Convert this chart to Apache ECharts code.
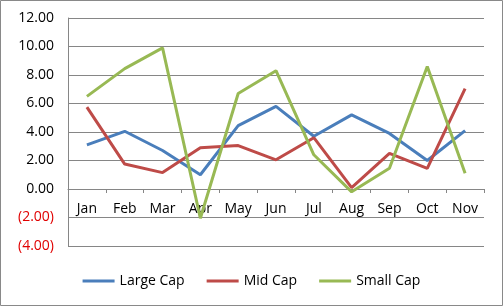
<!DOCTYPE html>
<html><head><meta charset="utf-8">
<script src="https://cdn.jsdelivr.net/npm/echarts@6/dist/echarts.min.js"></script>
<style>html,body{margin:0;padding:0;background:#fff}#c{width:503px;height:306px}</style>
</head><body><div id="c"></div>
<script>
const categories = ['Jan','Feb','Mar','Apr','May','Jun','Jul','Aug','Sep','Oct','Nov'];
const largeCap = [3.1, 4.05, 2.7, 1.0, 4.45, 5.8, 3.7, 5.2, 3.9, 2.0, 4.1];
const midCap   = [5.75, 1.75, 1.15, 2.9, 3.05, 2.05, 3.6, 0.1, 2.5, 1.45, 7.05];
const smallCap = [6.5, 8.45, 9.9, -2.05, 6.7, 8.3, 2.4, -0.2, 1.45, 8.6, 1.1];
const yTicks = {min: -4, max: 12, interval: 2};

const chart = echarts.init(document.getElementById('c'));
const font = 'Open Sans';
const gridTop = 18, gridBottom = 60, plotH = 306 - gridTop - gridBottom;
// distance from bottom of plot to the zero line, derived from the axis range
const zeroOffset = -plotH * (0 - yTicks.min) / (yTicks.max - yTicks.min);
function mk(name, data, color) {
  return {name, type: 'line', data, symbol: 'none', smooth: false,
    lineStyle: {width: 3, color}, itemStyle: {color}};
}
chart.setOption({
  animation: false,
  graphic: [{type: 'rect', shape: {x: 0.5, y: 0.5, width: 502, height: 305},
    style: {fill: 'none', stroke: '#898989', lineWidth: 1}, silent: true}],
  grid: {left: 68, right: 19, top: gridTop, bottom: gridBottom},
  legend: {bottom: 13, left: 'center', itemWidth: 32, itemHeight: 3, itemGap: 22,
    icon: 'rect', textStyle: {fontFamily: font, fontSize: 14, color: '#000'},
    data: ['Large Cap', 'Mid Cap', 'Small Cap']},
  xAxis: {type: 'category', data: categories, boundaryGap: true, offset: zeroOffset,
    axisLine: {onZero: false, lineStyle: {color: '#868686', width: 1}},
    axisTick: {show: true, length: 4, lineStyle: {color: '#868686'}},
    axisLabel: {fontFamily: font, fontSize: 14, color: '#000', margin: 13}},
  yAxis: {type: 'value', min: yTicks.min, max: yTicks.max, interval: yTicks.interval,
    axisLine: {show: true, onZero: false, lineStyle: {color: '#868686'}},
    axisTick: {show: false},
    splitLine: {lineStyle: {color: '#868686', width: 1}},
    axisLabel: {fontFamily: font, fontSize: 14, margin: 14,
      formatter: v => v < 0 ? '{n|(' + Math.abs(v).toFixed(2) + ')}' : '{p|' + v.toFixed(2) + '}',
      rich: {n: {color: '#e00000', fontFamily: font, fontSize: 14},
             p: {color: '#000', fontFamily: font, fontSize: 14}}}},
  series: [mk('Large Cap', largeCap, '#4A7EBB'), mk('Mid Cap', midCap, '#BE4B48'), mk('Small Cap', smallCap, '#98B954')]
});
</script></body></html>
